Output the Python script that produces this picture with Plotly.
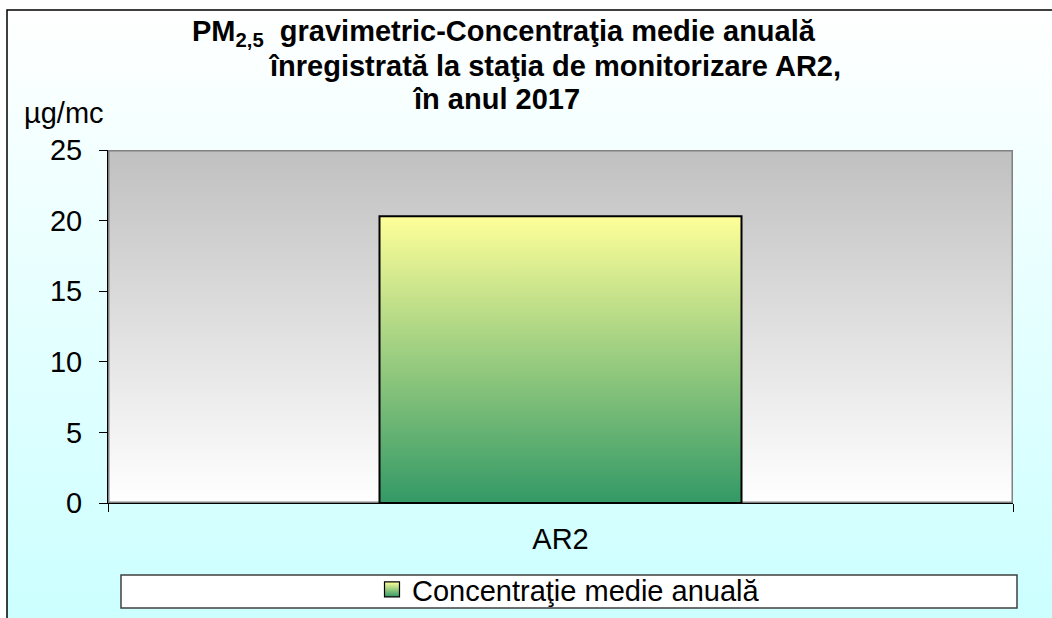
import plotly.graph_objects as go

W, H = 1052, 618

# ---- data ----
categories = ["AR2"]
series_name = "Concentraţie medie anuală"
values = [20.3]
y_ticks = [0, 5, 10, 15, 20, 25]
y_unit = "µg/mc"
title_lines = [
    "PM<sub>2,5</sub>  gravimetric-Concentraţia medie anuală",
    "înregistrată la staţia de monitorizare AR2,",
    "în anul 2017",
]

FONT = "Liberation Sans, Arial, sans-serif"
FS = 29
BAR_W = 0.4
YMAX = y_ticks[-1]

def px_x(p):
    return p / W

def px_y(p):
    return 1 - p / H

fig = go.Figure()

# paper background gradient + outer border (background axes in pixel units)
fig.add_trace(go.Scatter(
    x=[7, 1100, 1100, 7, 7], y=[-10, -10, H - 10, H - 10, -10],
    mode="lines", fill="toself",
    fillgradient=dict(type="vertical", start=0, stop=H - 10,
                      colorscale=[[0, "#CCFFFF"], [1, "#FFFFFF"]]),
    line=dict(color="black", width=1.5),
    xaxis="x", yaxis="y", showlegend=False, hoverinfo="skip"))

n = len(categories)
# plot area gradient
fig.add_trace(go.Scatter(
    x=[-0.5, n - 0.5, n - 0.5, -0.5, -0.5], y=[0, 0, YMAX, YMAX, 0],
    mode="lines", fill="toself",
    fillgradient=dict(type="vertical", start=0, stop=YMAX,
                      colorscale=[[0, "#FFFFFF"], [1, "#C0C0C0"]]),
    line=dict(color="#808080", width=3),
    xaxis="x2", yaxis="y2", showlegend=False, hoverinfo="skip"))

# the bar
fig.add_trace(go.Bar(
    x=list(range(n)), y=values, width=BAR_W,
    marker=dict(color="#99CC80", line=dict(color="black", width=2)),
    xaxis="x2", yaxis="y2", showlegend=False, name=series_name))

# gradient fill of each bar, from the same values
for i, v in enumerate(values):
    fig.add_trace(go.Scatter(
        x=[i - BAR_W / 2, i + BAR_W / 2, i + BAR_W / 2, i - BAR_W / 2, i - BAR_W / 2],
        y=[0, 0, v, v, 0],
        mode="lines", fill="toself",
        fillgradient=dict(type="vertical", start=0, stop=v,
                          colorscale=[[0, "#339966"], [1, "#FFFF99"]]),
        line=dict(color="black", width=2),
        xaxis="x2", yaxis="y2", showlegend=False, hoverinfo="skip"))

# legend entry
fig.add_trace(go.Scatter(
    x=[None], y=[None], mode="markers", name=series_name,
    marker=dict(symbol="square", size=15, color="#FFFF99",
                gradient=dict(type="vertical", color="#339966"),
                line=dict(color="black", width=1.2)),
    xaxis="x2", yaxis="y2", showlegend=True))

annotations = []
title_pos = [(190, 33), (266, 66), (410, 99)]
for txt, (lx, cy) in zip(title_lines, title_pos):
    annotations.append(dict(
        text="<b>" + txt + "</b>", xref="paper", yref="paper",
        x=px_x(lx), y=px_y(cy), xanchor="left", yanchor="middle",
        showarrow=False, font=dict(family=FONT, size=FS, color="black")))
annotations.append(dict(
    text=y_unit, xref="paper", yref="paper", x=px_x(22), y=px_y(113),
    xanchor="left", yanchor="middle", showarrow=False,
    font=dict(family=FONT, size=FS, color="black")))

fig.update_layout(
    width=W, height=H, margin=dict(l=0, r=0, t=0, b=0, autoexpand=False),
    paper_bgcolor="white", plot_bgcolor="rgba(0,0,0,0)",
    font=dict(family=FONT, size=FS, color="black"),
    xaxis=dict(domain=[0, 1], range=[0, W], visible=False, fixedrange=True),
    yaxis=dict(domain=[0, 1], range=[0, H], visible=False, fixedrange=True),
    xaxis2=dict(domain=[px_x(108), px_x(1013)], anchor="y2", range=[-0.5, n - 0.5],
                tickmode="array", tickvals=list(range(n)), ticktext=categories,
                ticks="", showline=True, linecolor="black", linewidth=1,
                showgrid=False, zeroline=False, ticklabelstandoff=10,
                minor=dict(tickmode="array", tickvals=[k - 0.5 for k in range(n + 1)],
                           ticks="outside", ticklen=8, tickcolor="black", tickwidth=1,
                           showgrid=False),
                tickfont=dict(family=FONT, size=FS, color="black")),
    yaxis2=dict(domain=[px_y(503), px_y(150)], anchor="x2", range=[0, YMAX],
                tickmode="array", tickvals=y_ticks,
                ticks="outside", ticklen=8, tickcolor="black", tickwidth=1,
                showline=True, linecolor="black", linewidth=1,
                showgrid=False, zeroline=False, ticklabelstandoff=11,
                tickfont=dict(family=FONT, size=FS, color="black")),
    showlegend=True,
    legend=dict(x=px_x(372), y=px_y(615), xanchor="left", yanchor="bottom",
                bgcolor="rgba(0,0,0,0)", borderwidth=0,
                font=dict(family=FONT, size=FS, color="black")),
    shapes=[dict(type="rect", xref="paper", yref="paper",
                 x0=px_x(121), x1=px_x(1017), y0=px_y(608), y1=px_y(575),
                 fillcolor="white", line=dict(color="#404040", width=1.5),
                 layer="above")],
    annotations=annotations,
)

fig.write_html(
    "out.html",
    config={"displayModeBar": False},
    post_script="document.body.style.margin='0';document.body.style.overflow='hidden';",
)
